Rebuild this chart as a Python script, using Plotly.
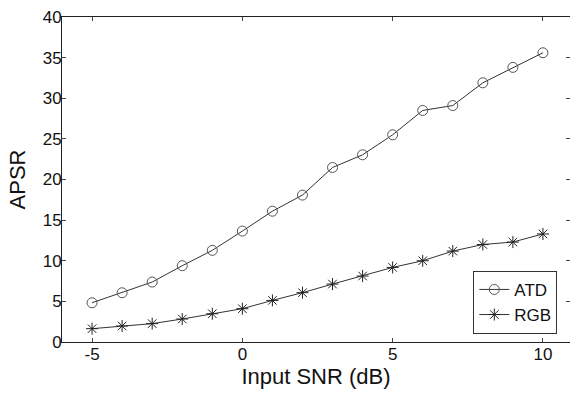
import plotly.graph_objects as go

snr = [-5, -4, -3, -2, -1, 0, 1, 2, 3, 4, 5, 6, 7, 8, 9, 10]
atd = [4.83, 6.06, 7.38, 9.39, 11.28, 13.65, 16.1, 18.08, 21.48, 23.04, 25.5, 28.5, 29.1, 31.9, 33.8, 35.6]
rgb = [1.64, 1.97, 2.26, 2.83, 3.48, 4.10, 5.12, 6.07, 7.13, 8.12, 9.18, 10.0, 11.19, 12.0, 12.3, 13.3]
x_ticks = [-5, 0, 5, 10]
x_tick_labels = ["-5", "0", "5", "10"]
y_ticks = [0, 5, 10, 15, 20, 25, 30, 35, 40]

FONT = "Liberation Sans, Arial, sans-serif"

fig = go.Figure()
fig.add_trace(go.Scatter(
    x=snr, y=atd, name="ATD", mode="lines+markers",
    line=dict(color="#333333", width=1),
    marker=dict(symbol="circle-open", size=10, color="#555555", line=dict(width=1)),
))
fig.add_trace(go.Scatter(
    x=snr, y=rgb, name="RGB", mode="lines+markers",
    line=dict(color="#333333", width=1),
    marker=dict(symbol="asterisk-open", size=10, color="#222222", line=dict(width=1, color="#222222")),
))

axis_common = dict(
    showgrid=False, zeroline=False, showline=True, linecolor="#222222", linewidth=1,
    mirror="ticks", ticks="inside", ticklen=4, tickcolor="#444444",
    tickfont=dict(family=FONT, size=17, color="#111111"),
)

fig.update_layout(
    width=570, height=395,
    margin=dict(l=62, r=0, t=17, b=53),
    paper_bgcolor="white", plot_bgcolor="white",
    font=dict(family=FONT, color="#111111"),
    xaxis=dict(range=[-6, 10.9], tickvals=x_ticks, ticktext=x_tick_labels, ticklabelstandoff=-3,
               title=dict(text="Input SNR (dB)", font=dict(family=FONT, size=22), standoff=0),
               **axis_common),
    yaxis=dict(range=[0, 40], tickvals=y_ticks, ticklabelstandoff=-4,
               title=dict(text="APSR", font=dict(family=FONT, size=22), standoff=10),
               **axis_common),
    legend=dict(
        x=0.975, y=0.025, xanchor="right", yanchor="bottom",
        bordercolor="#333333", borderwidth=1, bgcolor="white",
        font=dict(family=FONT, size=17, color="#111111"),
        tracegroupgap=0, itemwidth=30,
    ),
    showlegend=True,
)

fig.write_html("out.html", config={"displayModeBar": False},
               post_script="document.body.style.margin='0';document.body.style.padding='0';")
